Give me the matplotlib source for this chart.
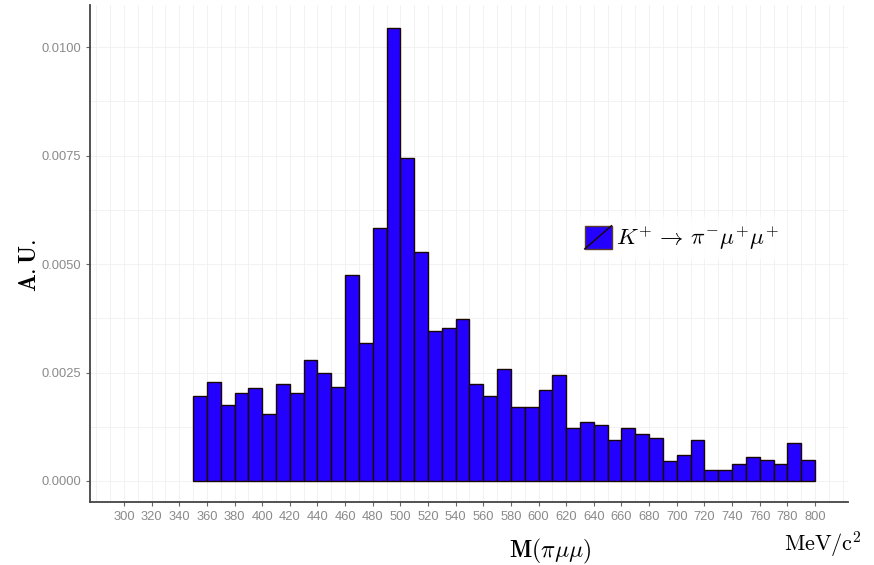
import matplotlib
matplotlib.use("Agg")
import matplotlib.pyplot as plt
from matplotlib.patches import Rectangle
from matplotlib.lines import Line2D
from matplotlib.legend_handler import HandlerBase
import numpy as np

# histogram bins (MeV/c^2), left edges, width 10
bin_left = list(range(350, 800, 10))
heights = [0.00196, 0.00229, 0.00175, 0.00202, 0.00215, 0.00155, 0.00223, 0.00202,
           0.00278, 0.00250, 0.00217, 0.00474, 0.00317, 0.00582, 0.01043, 0.00745,
           0.00528, 0.00345, 0.00352, 0.00373, 0.00223, 0.00196, 0.00257, 0.00170,
           0.00170, 0.00210, 0.00244, 0.00121, 0.00135, 0.00128, 0.00094, 0.00121,
           0.00108, 0.00100, 0.00047, 0.00061, 0.00094, 0.00025, 0.00025, 0.00040,
           0.00055, 0.00048, 0.00040, 0.00087, 0.00048]
x_ticks = list(range(300, 801, 20))
y_ticks = [0.0, 0.0025, 0.005, 0.0075, 0.01]
y_ticklabels = ["0.0000", "0.0025", "0.0050", "0.0075", "0.0100"]
legend_label = r"$K^{+}\,\rightarrow\,\pi^{-}\mu^{+}\mu^{+}$"

fill_col = "#2400ff"
edge_col = "#1a0800"

plt.rcParams["mathtext.fontset"] = "cm"
plt.rcParams["font.family"] = ["Liberation Sans", "DejaVu Sans"]

fig = plt.figure(figsize=(8.74, 5.65), dpi=100)
ax = fig.add_axes([90 / 874, 1 - 502 / 565, (848 - 90) / 874, (502 - 5) / 565])

# light grid (major + minor)
for gx in np.arange(280, 830, 10):
    ax.axvline(gx, color="#f0f0f0", lw=0.6, zorder=0)
for gy in np.arange(0, 0.0110, 0.00125):
    ax.axhline(gy, color="#f0f0f0", lw=0.6, zorder=0)

ax.bar(bin_left, heights, width=10, align="edge", color=fill_col,
       edgecolor=edge_col, linewidth=1.0, zorder=2)

ax.set_xlim(275.4, 823.9)
ax.set_ylim(-0.000484, 0.01097)
ax.set_xticks(x_ticks)
ax.set_yticks(y_ticks)
ax.set_yticklabels(y_ticklabels)
ax.tick_params(labelsize=9.3, labelcolor="#8a8a8a", color="#666666",
               length=3, width=0.8)
for s in ["top", "right"]:
    ax.spines[s].set_visible(False)
for s in ["left", "bottom"]:
    ax.spines[s].set_color("#444444")
    ax.spines[s].set_linewidth(1.3)


class SlashBox(HandlerBase):
    def create_artists(self, legend, orig_handle, xdescent, ydescent,
                       width, height, fontsize, trans):
        r = Rectangle((-xdescent, -ydescent), width, height, facecolor=fill_col,
                      edgecolor="#5a3a2a", lw=1.0, transform=trans)
        ln = Line2D([-xdescent, -xdescent + width], [-ydescent, -ydescent + height],
                    color=edge_col, lw=1.0, transform=trans)
        return [r, ln]


leg = ax.legend([Rectangle((0, 0), 1, 1)], [legend_label],
                handler_map={Rectangle: SlashBox()},
                loc="center left", bbox_to_anchor=(566 / 874, 1 - 238 / 565),
                bbox_transform=fig.transFigure, fontsize=16.8, frameon=True,
                handlelength=1.15, handleheight=1.15, handletextpad=0.2,
                borderpad=0.3, fancybox=False)
leg.get_frame().set_facecolor("white")
leg.get_frame().set_edgecolor("none")

fig.text(30 / 874, 1 - 265 / 565, r"$\mathbf{A.U.}$", rotation=90,
         ha="center", va="center", fontsize=17)
fig.text(550 / 874, 1 - 551 / 565, r"$\mathbf{M(}\pi\mu\mu\mathbf{)}$",
         ha="center", va="center", fontsize=17)
fig.text(862 / 874, 1 - 545 / 565, r"$\mathrm{MeV/c^{2}}$",
         ha="right", va="center", fontsize=16)

fig.savefig("out.png", dpi=100)
